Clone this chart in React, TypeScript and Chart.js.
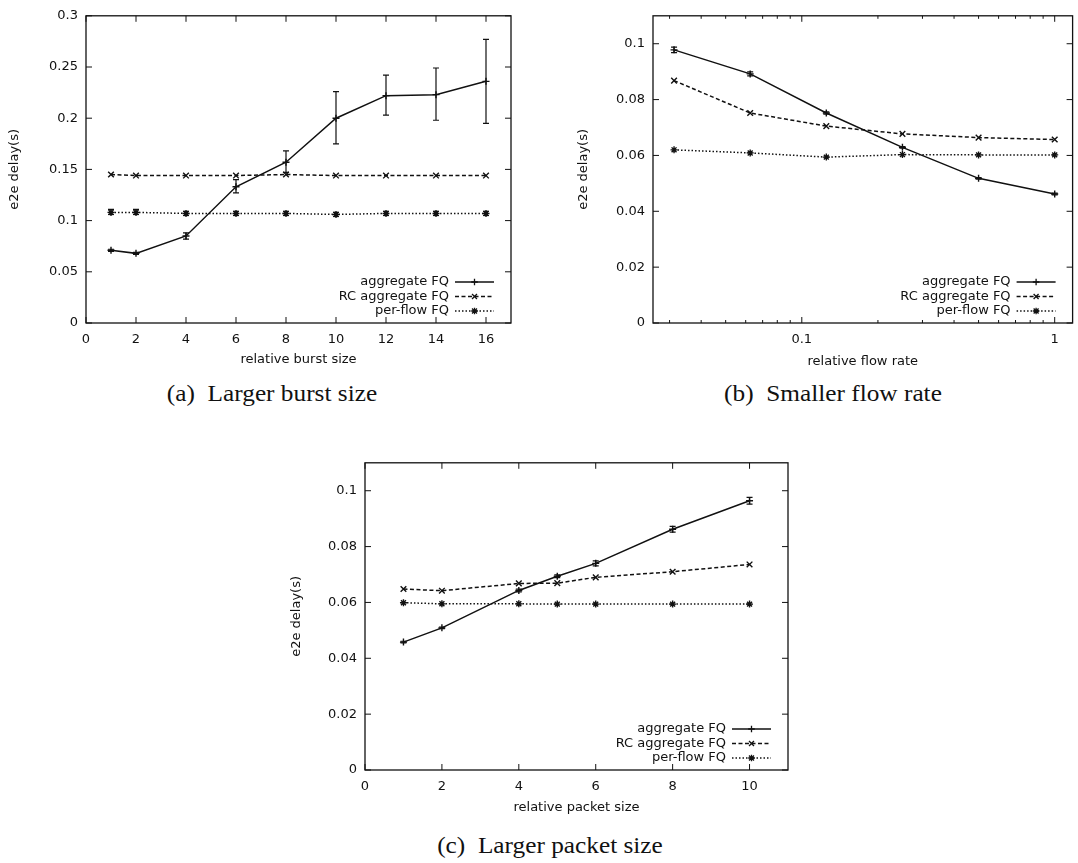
import React, { useEffect, useRef } from "react";
import { Chart, registerables } from "chart.js";

Chart.register(...registerables);

const SANS = "'DejaVu Sans', 'Liberation Sans', Arial, sans-serif";
const SERIF = "'Liberation Serif', 'Times New Roman', serif";
const INK = "#111111";
const FONT_SIZE = 13;

const seriesNames = ["aggregate FQ", "RC aggregate FQ", "per-flow FQ"];
const yTitle = "e2e delay(s)";

// ---------- (a) Larger burst size ----------
const burstX = [1, 2, 4, 6, 8, 10, 12, 14, 16];
const aAgg = [0.071, 0.068, 0.085, 0.133, 0.157, 0.2, 0.222, 0.223, 0.236];
const aAggLo = [0.070, 0.067, 0.082, 0.127, 0.147, 0.175, 0.203, 0.198, 0.195];
const aAggHi = [0.072, 0.069, 0.088, 0.14, 0.168, 0.226, 0.242, 0.249, 0.277];
const aRC = [0.145, 0.144, 0.144, 0.144, 0.145, 0.144, 0.144, 0.144, 0.144];
const aPF = [0.108, 0.108, 0.107, 0.107, 0.107, 0.106, 0.107, 0.107, 0.107];
const aPFLo = [0.106, 0.106, 0.105, 0.105, 0.105, 0.104, 0.105, 0.105, 0.105];
const aPFHi = [0.111, 0.111, 0.109, 0.109, 0.109, 0.108, 0.109, 0.109, 0.109];
const aXTicks = [0, 2, 4, 6, 8, 10, 12, 14, 16];
const aYTicks = [0, 0.05, 0.1, 0.15, 0.2, 0.25, 0.3];

// ---------- (b) Smaller flow rate ----------
const rateX = [0.03125, 0.0625, 0.125, 0.25, 0.5, 1];
const bAgg = [0.0978, 0.0892, 0.0752, 0.0629, 0.0518, 0.0462];
const bAggLo = [0.0968, 0.0885, 0.0748, 0.0626, 0.0515, 0.0459];
const bAggHi = [0.0988, 0.0899, 0.0756, 0.0632, 0.0521, 0.0465];
const bRC = [0.0868, 0.0752, 0.0705, 0.0677, 0.0664, 0.0657];
const bPF = [0.062, 0.0609, 0.0594, 0.0603, 0.0602, 0.0602];
const bXTicks = [0.1, 1];
const bXMinor = [0.03, 0.04, 0.05, 0.06, 0.07, 0.08, 0.09, 0.2, 0.3, 0.4, 0.5, 0.6, 0.7, 0.8, 0.9];
const bYTicks = [0, 0.02, 0.04, 0.06, 0.08, 0.1];

// ---------- (c) Larger packet size ----------
const pktX = [1, 2, 4, 5, 6, 8, 10];
const cAgg = [0.0458, 0.0509, 0.0643, 0.0694, 0.074, 0.0862, 0.0964];
const cAggLo = [0.0455, 0.0506, 0.0638, 0.0689, 0.0731, 0.0852, 0.0952];
const cAggHi = [0.0461, 0.0512, 0.0648, 0.0699, 0.0749, 0.0872, 0.0976];
const cRC = [0.0648, 0.0642, 0.0668, 0.0669, 0.069, 0.071, 0.0736];
const cPF = [0.0599, 0.0595, 0.0595, 0.0594, 0.0594, 0.0594, 0.0594];
const cXTicks = [0, 2, 4, 6, 8, 10];
const cYTicks = [0, 0.02, 0.04, 0.06, 0.08, 0.1];

type Err = { lo: number[]; hi: number[] } | null;

type Spec = {
  left: number;
  top: number;
  width: number;
  height: number;
  yAxisWidth: number;
  xAxisHeight: number;
  padTop: number;
  padRight: number;
  xTitlePad: number;
  xType: "linear" | "logarithmic";
  xMin: number;
  xMax: number;
  xTicks: number[];
  xMinor: number[];
  yMax: number;
  yTicks: number[];
  xTitle: string;
  xs: number[];
  series: number[][];
  errors: Err[];
  caption: string;
  captionX: number;
  captionTop: number;
};

const styles = [
  { point: "cross", dash: [] as number[], r: 3.5 },
  { point: "crossRot", dash: [4, 2.5], r: 4 },
  { point: "star", dash: [1.5, 2], r: 3.5 },
];

const fmt = (v: number) => String(+Number(v).toFixed(4));

function drawMarker(ctx: CanvasRenderingContext2D, kind: string, x: number, y: number, r: number) {
  ctx.beginPath();
  if (kind === "cross" || kind === "star") {
    ctx.moveTo(x - r, y);
    ctx.lineTo(x + r, y);
    ctx.moveTo(x, y - r);
    ctx.lineTo(x, y + r);
  }
  if (kind === "crossRot" || kind === "star") {
    const d = r * 0.75;
    ctx.moveTo(x - d, y - d);
    ctx.lineTo(x + d, y + d);
    ctx.moveTo(x - d, y + d);
    ctx.lineTo(x + d, y - d);
  }
  ctx.stroke();
}

function makeConfig(spec: Spec): any {
  const framePlugin = {
    id: "frameTicks",
    afterDraw(chart: any) {
      const { ctx, chartArea: a, scales } = chart;
      ctx.save();
      ctx.strokeStyle = INK;
      ctx.lineWidth = 1.3;
      ctx.setLineDash([]);
      ctx.strokeRect(a.left, a.top, a.right - a.left, a.bottom - a.top);
      const seg = (x1: number, y1: number, x2: number, y2: number) => {
        ctx.beginPath();
        ctx.moveTo(x1, y1);
        ctx.lineTo(x2, y2);
        ctx.stroke();
      };
      ctx.lineWidth = 1;
      spec.xTicks.forEach((v) => {
        const px = scales.x.getPixelForValue(v);
        seg(px, a.bottom, px, a.bottom - 6);
        seg(px, a.top, px, a.top + 6);
      });
      spec.xMinor.forEach((v) => {
        const px = scales.x.getPixelForValue(v);
        seg(px, a.bottom, px, a.bottom - 3);
        seg(px, a.top, px, a.top + 3);
      });
      spec.yTicks.forEach((v) => {
        const py = scales.y.getPixelForValue(v);
        seg(a.left, py, a.left + 6, py);
        seg(a.right, py, a.right - 6, py);
      });
      ctx.restore();
    },
  };

  const errPlugin = {
    id: "errBars",
    afterDatasetsDraw(chart: any) {
      const { ctx, scales } = chart;
      ctx.save();
      ctx.strokeStyle = INK;
      ctx.lineWidth = 1.2;
      ctx.setLineDash([]);
      spec.errors.forEach((e) => {
        if (!e) return;
        spec.xs.forEach((x, i) => {
          const px = scales.x.getPixelForValue(x);
          const p1 = scales.y.getPixelForValue(e.lo[i]);
          const p2 = scales.y.getPixelForValue(e.hi[i]);
          ctx.beginPath();
          ctx.moveTo(px, p1);
          ctx.lineTo(px, p2);
          ctx.moveTo(px - 3, p1);
          ctx.lineTo(px + 3, p1);
          ctx.moveTo(px - 3, p2);
          ctx.lineTo(px + 3, p2);
          ctx.stroke();
        });
      });
      ctx.restore();
    },
  };

  const legendPlugin = {
    id: "innerLegend",
    afterDraw(chart: any) {
      const { ctx, chartArea: a } = chart;
      const rows = [41, 26.5, 12];
      ctx.save();
      ctx.font = `${FONT_SIZE}px ${SANS}`;
      ctx.fillStyle = INK;
      ctx.strokeStyle = INK;
      ctx.textAlign = "right";
      ctx.textBaseline = "middle";
      seriesNames.forEach((name, i) => {
        const y = a.bottom - rows[i];
        ctx.setLineDash([]);
        ctx.fillText(name, a.right - 62, y);
        ctx.lineWidth = 1.4;
        ctx.setLineDash(styles[i].dash);
        ctx.beginPath();
        ctx.moveTo(a.right - 56, y);
        ctx.lineTo(a.right - 17, y);
        ctx.stroke();
        ctx.setLineDash([]);
        ctx.lineWidth = 1.3;
        drawMarker(ctx, styles[i].point, a.right - 36.5, y, 3.3);
      });
      ctx.restore();
    },
  };

  const tickFont = { family: SANS, size: FONT_SIZE };

  return {
    type: "line",
    data: {
      datasets: spec.series.map((ys, i) => ({
        label: seriesNames[i],
        data: spec.xs.map((x, j) => ({ x, y: ys[j] })),
        borderColor: INK,
        backgroundColor: INK,
        borderWidth: 1.5,
        borderDash: styles[i].dash,
        pointStyle: styles[i].point,
        pointRadius: styles[i].r,
        pointBorderWidth: 1.4,
        pointBorderColor: INK,
        pointBackgroundColor: INK,
        fill: false,
        tension: 0,
      })),
    },
    options: {
      animation: false,
      responsive: false,
      events: [],
      layout: { padding: { top: spec.padTop, right: spec.padRight, left: 0, bottom: 0 } },
      plugins: { legend: { display: false }, tooltip: { enabled: false } },
      scales: {
        x: {
          type: spec.xType,
          min: spec.xMin,
          max: spec.xMax,
          afterBuildTicks: (s: any) => {
            s.ticks = spec.xTicks.map((v) => ({ value: v }));
          },
          afterFit: (s: any) => {
            s.height = spec.xAxisHeight;
          },
          grid: { display: false, drawTicks: false },
          border: { display: false },
          ticks: {
            color: INK,
            font: tickFont,
            padding: 8.5,
            maxRotation: 0,
            autoSkip: false,
            callback: (v: any) => fmt(v),
          },
          title: {
            display: true,
            text: spec.xTitle,
            color: INK,
            font: tickFont,
            padding: { top: 0, bottom: spec.xTitlePad },
          },
        },
        y: {
          type: "linear",
          min: 0,
          max: spec.yMax,
          afterBuildTicks: (s: any) => {
            s.ticks = spec.yTicks.map((v) => ({ value: v }));
          },
          afterFit: (s: any) => {
            s.width = spec.yAxisWidth;
          },
          grid: { display: false, drawTicks: false },
          border: { display: false },
          ticks: {
            color: INK,
            font: tickFont,
            padding: 8,
            autoSkip: false,
            callback: (v: any) => fmt(v),
          },
          title: {
            display: true,
            text: yTitle,
            color: INK,
            font: tickFont,
            padding: { top: 7.2, bottom: 0 },
          },
        },
      },
    },
    plugins: [framePlugin, errPlugin, legendPlugin],
  };
}

const panels: Spec[] = [
  {
    left: 0, top: 0, width: 530, height: 375,
    yAxisWidth: 86, xAxisHeight: 52, padTop: 10, padRight: 19, xTitlePad: 7.2,
    xType: "linear", xMin: 0, xMax: 17, xTicks: aXTicks, xMinor: [],
    yMax: 0.3, yTicks: aYTicks, xTitle: "relative burst size",
    xs: burstX, series: [aAgg, aRC, aPF],
    errors: [{ lo: aAggLo, hi: aAggHi }, null, { lo: aPFLo, hi: aPFHi }],
    caption: "(a)  Larger burst size", captionX: 272, captionTop: 382,
  },
  {
    left: 569, top: 0, width: 509, height: 375,
    yAxisWidth: 84, xAxisHeight: 52, padTop: 10, padRight: 2, xTitlePad: 5.2,
    xType: "logarithmic", xMin: 0.0258, xMax: 1.177, xTicks: bXTicks, xMinor: bXMinor,
    yMax: 0.11, yTicks: bYTicks, xTitle: "relative flow rate",
    xs: rateX, series: [bAgg, bRC, bPF],
    errors: [{ lo: bAggLo, hi: bAggHi }, null, null],
    caption: "(b)  Smaller flow rate", captionX: 833, captionTop: 382,
  },
  {
    left: 282, top: 447, width: 516, height: 375,
    yAxisWidth: 83, xAxisHeight: 52, padTop: 10, padRight: 10, xTitlePad: 6.2,
    xType: "linear", xMin: 0, xMax: 11, xTicks: cXTicks, xMinor: [],
    yMax: 0.11, yTicks: cYTicks, xTitle: "relative packet size",
    xs: pktX, series: [cAgg, cRC, cPF],
    errors: [{ lo: cAggLo, hi: cAggHi }, null, null],
    caption: "(c)  Larger packet size", captionX: 550, captionTop: 834,
  },
];

function Panel({ spec }: { spec: Spec }) {
  const ref = useRef<HTMLCanvasElement>(null);
  useEffect(() => {
    const chart = new Chart(ref.current as HTMLCanvasElement, makeConfig(spec));
    return () => chart.destroy();
  }, [spec]);
  return (
    <>
      <canvas
        ref={ref}
        width={spec.width}
        height={spec.height}
        style={{ position: "absolute", left: spec.left, top: spec.top, width: spec.width, height: spec.height, display: "block" }}
      />
      <div
        style={{
          position: "absolute",
          left: spec.captionX - 200,
          top: spec.captionTop,
          width: 400,
          textAlign: "center",
          fontFamily: SERIF,
          fontSize: 23,
          lineHeight: "23px",
          whiteSpace: "pre",
          color: INK,
          transform: "scaleX(1.1)",
          transformOrigin: "50% 50%",
        }}
      >
        {spec.caption}
      </div>
    </>
  );
}

export default function App() {
  return (
    <div
      style={{
        position: "absolute",
        left: 0,
        top: 0,
        width: 1078,
        height: 863,
        overflow: "hidden",
        background: "#ffffff",
      }}
    >
      {panels.map((p, i) => (
        <Panel key={i} spec={p} />
      ))}
    </div>
  );
}
